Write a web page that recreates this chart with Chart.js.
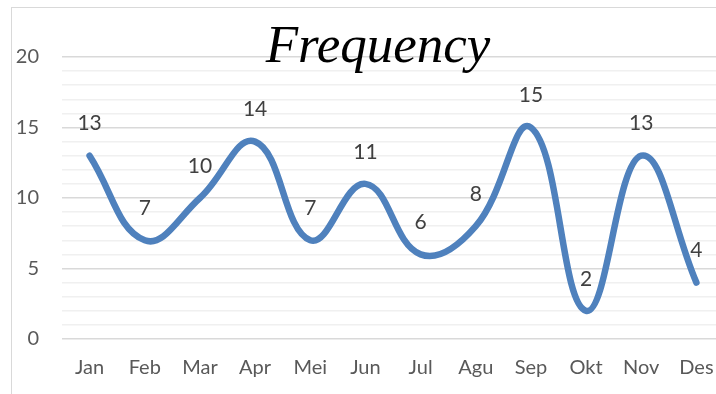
<!DOCTYPE html>
<html>
<head>
<meta charset="utf-8">
<script src="https://cdn.jsdelivr.net/npm/chart.js@4.4.0/dist/chart.umd.min.js"></script>
<style>
    html, body { margin: 0; padding: 0; background: #ffffff; overflow: hidden; }
    #wrap { position: absolute; left: 0; top: 0; width: 745px; height: 394px; }
</style>
</head>
<body>
<div id="wrap"><canvas id="grafico" width="745" height="394"></canvas></div>
<script>
// Dados do gráfico
const bulan = ['Jan', 'Feb', 'Mar', 'Apr', 'Mei', 'Jun', 'Jul', 'Agu', 'Sep', 'Okt', 'Nov', 'Des'];
const frekuensi = [13, 7, 10, 14, 7, 11, 6, 8, 15, 2, 13, 4];
const judul = 'Frequency';
const yMin = 0;
const yMax = 20;
const yLabelStep = 5;

const corTexto = '#595959';
const fonte = 'Lato, "Open Sans", sans-serif';

// Borda da área do gráfico + título por cima da grade
const pluginMoldura = {
    id: 'moldura',
    beforeDraw(chart) {
        const ctx = chart.ctx;
        ctx.save();
        ctx.fillStyle = '#ffffff';
        ctx.fillRect(0, 0, chart.width, chart.height);
        ctx.strokeStyle = '#d9d9d9';
        ctx.lineWidth = 1;
        ctx.strokeRect(11.5, 7.5, chart.width - 12, chart.height + 10);
        ctx.restore();
    },
    afterDraw(chart) {
        const ctx = chart.ctx;
        ctx.save();
        ctx.font = 'italic 53px "Liberation Serif", "Times New Roman", serif';
        ctx.fillStyle = '#000000';
        ctx.textAlign = 'center';
        ctx.textBaseline = 'alphabetic';
        ctx.fillText(judul, 378, 62);
        ctx.restore();
    }
};

// Rótulos de dados acima de cada ponto
const pluginRotulos = {
    id: 'rotulos',
    afterDatasetsDraw(chart) {
        const ctx = chart.ctx;
        const meta = chart.getDatasetMeta(0);
        ctx.save();
        ctx.font = '21px ' + fonte;
        ctx.fillStyle = '#404040';
        ctx.textAlign = 'center';
        ctx.textBaseline = 'middle';
        meta.data.forEach((pt, i) => {
            ctx.fillText(String(frekuensi[i]), pt.x, pt.y - 32);
        });
        ctx.restore();
    }
};

new Chart(document.getElementById('grafico'), {
    type: 'line',
    data: {
        labels: bulan,
        datasets: [{
            data: frekuensi,
            borderColor: '#4f81bd',
            borderWidth: 6.5,
            borderCapStyle: 'round',
            borderJoinStyle: 'round',
            tension: 0.42,
            pointRadius: 0,
            fill: false
        }]
    },
    options: {
        responsive: false,
        animation: false,
        layout: { padding: { top: 57, left: 0, right: 21, bottom: 0 } },
        plugins: {
            legend: { display: false },
            tooltip: { enabled: false }
        },
        scales: {
            x: {
                offset: true,
                grid: { display: false, drawTicks: false },
                border: { display: false },
                ticks: {
                    color: corTexto,
                    padding: 17,
                    maxRotation: 0,
                    autoSkip: false,
                    font: { size: 20, family: fonte }
                },
                afterFit(scale) { scale.height = 55; }
            },
            y: {
                min: yMin,
                max: yMax,
                grid: {
                    drawTicks: false,
                    color: c => (c.tick.value % yLabelStep === 0 ? '#d9d9d9' : '#f0f0f0'),
                    lineWidth: 1.5
                },
                border: { display: false },
                ticks: {
                    stepSize: 1,
                    autoSkip: false,
                    color: corTexto,
                    padding: 23,
                    font: { size: 20, family: fonte },
                    callback: v => (v % yLabelStep === 0 ? String(v) : '')
                },
                afterFit(scale) { scale.width = 62; }
            }
        }
    },
    plugins: [pluginMoldura, pluginRotulos]
});
</script>
</body>
</html>
